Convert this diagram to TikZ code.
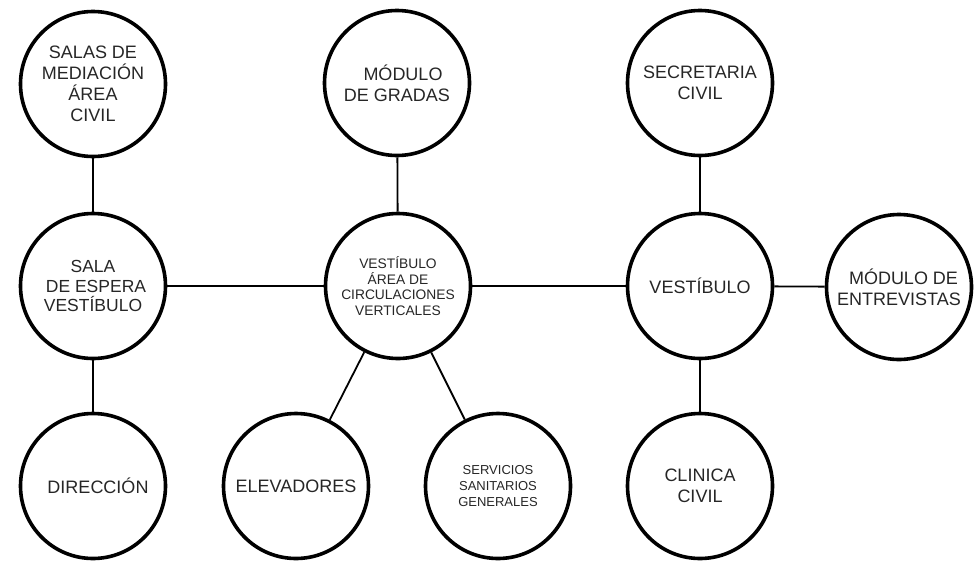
\documentclass[tikz,border=0pt]{standalone}
\usepackage{fontspec}
\setmainfont{Liberation Sans}
\begin{document}
\begin{tikzpicture}[x=1pt,y=-1pt,
  bubble/.style={circle,draw=black,line width=3.6pt,minimum size=145pt,inner sep=0pt,align=center,text=black!85},
  big/.style={font=\fontsize{18}{21}\selectfont},
  mid/.style={font=\fontsize{17.5}{19.5}\selectfont},
  small/.style={font=\fontsize{13.8}{15.7}\selectfont},
  tiny/.style={font=\fontsize{13}{16.3}\selectfont},
  link/.style={line width=1.8pt,draw=black}]
\useasboundingbox (0,0) rectangle (979,560);
\node[bubble,big] (salas) at (93,84) {SALAS DE\\MEDIACIÓN\\ÁREA\\CIVIL};
\node[bubble,big] (gradas) at (397,83) {\hspace*{12pt}MÓDULO\\DE GRADAS};
\node[bubble,big] (secret) at (700,83) {SECRETARIA\\CIVIL};
\node[bubble,mid] (espera) at (93,286) {SALA\\\hspace*{6pt}DE ESPERA\\VESTÍBULO};
\node[bubble,small] (centro) at (398,286) {VESTÍBULO\\ÁREA DE\\CIRCULACIONES\\VERTICALES};
\node[bubble,big] (vest) at (700,286) {VESTÍBULO};
\node[bubble,big] (entrev) at (899,287) {\hspace*{9pt}MÓDULO DE\\ENTREVISTAS};
\node[bubble,big] (direc) at (93,486) {\hspace*{10pt}DIRECCIÓN};
\node[bubble,big] (elev) at (296,486) {ELEVADORES};
\node[bubble,tiny] (serv) at (498,486) {SERVICIOS\\SANITARIOS\\GENERALES};
\node[bubble,big] (clin) at (700,486) {CLINICA\\CIVIL};
\draw[link] (salas) -- (espera);
\draw[link] (espera) -- (direc);
\draw[link] (espera) -- (centro);
\draw[link] (gradas) -- (centro);
\draw[link] (centro) -- (vest);
\draw[link] (centro) -- (elev);
\draw[link] (centro) -- (serv);
\draw[link] (secret) -- (vest);
\draw[link] (vest) -- (entrev);
\draw[link] (vest) -- (clin);
\end{tikzpicture}
\end{document}
